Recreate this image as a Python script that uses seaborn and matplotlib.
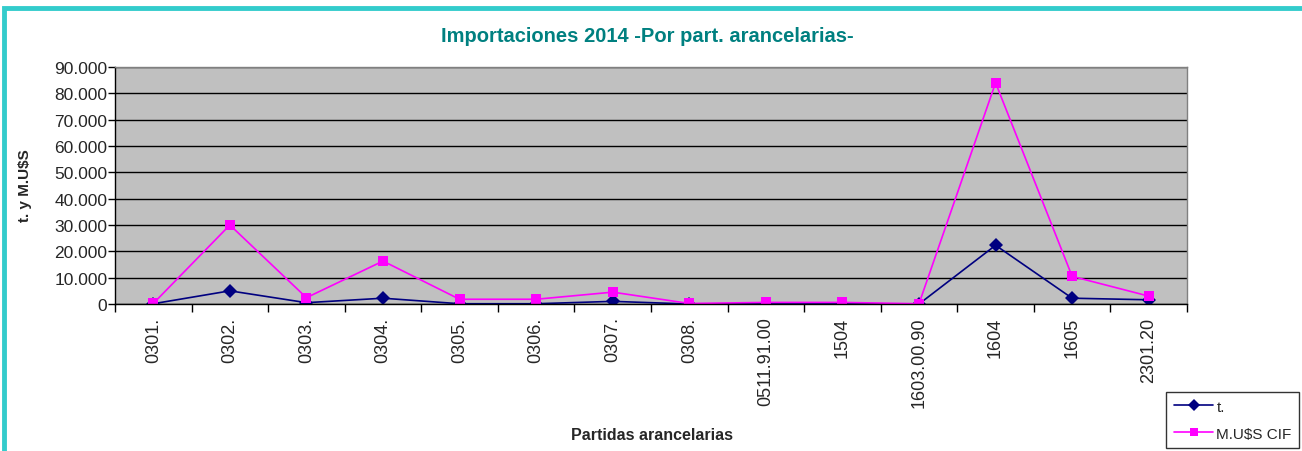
import numpy as np
import pandas as pd
import matplotlib
matplotlib.use("Agg")
import matplotlib.pyplot as plt
import seaborn as sns
from matplotlib.patches import Rectangle
from matplotlib.lines import Line2D
from matplotlib.ticker import FuncFormatter, FixedLocator

sns.set_theme(style="white")
plt.rcParams['font.family'] = ['Liberation Sans', 'DejaVu Sans']

# Datos
partidas = ["0301.", "0302.", "0303.", "0304.", "0305.", "0306.", "0307.",
            "0308.", "0511.91.00", "1504", "1603.00.90", "1604", "1605", "2301.20"]
toneladas = [100, 5000, 500, 2200, 100, 100, 1000, 0, 100, 100, 0, 22300, 2200, 1600]
musd_cif = [200, 30000, 2400, 16300, 1800, 1800, 4500, 200, 600, 600, 100, 84000, 10500, 3000]

df = pd.DataFrame({"Partida": partidas + partidas,
                   "Valor": toneladas + musd_cif,
                   "Serie": ["t."] * len(partidas) + ["M.U$S CIF"] * len(partidas)})

fig = plt.figure(figsize=(13.02, 4.52), dpi=100)
fig.patch.set_facecolor("white")
ax = fig.add_axes([115/1302, 1 - 305/452, (1187 - 115)/1302, (305 - 68)/452])

sns.lineplot(data=df, x="Partida", y="Valor", hue="Serie", style="Serie",
             palette={"t.": "#000080", "M.U$S CIF": "#FF00FF"},
             markers={"t.": "D", "M.U$S CIF": "s"}, dashes=False,
             markersize=7, linewidth=1.2, markeredgewidth=0, sort=False,
             ax=ax, legend=False)

ax.set_facecolor("#C0C0C0")
ax.set_xlim(-0.5, len(partidas) - 0.5)
ax.set_ylim(0, 90000)
ax.set_yticks(np.arange(0, 90001, 10000))
ax.yaxis.set_major_formatter(FuncFormatter(lambda v, p: f"{int(v):,}".replace(",", ".")))
ax.grid(axis="y", color="black", linewidth=1)
ax.set_axisbelow(True)

# ticks entre categorias, etiquetas centradas
ax.xaxis.set_major_locator(FixedLocator(np.arange(-0.5, len(partidas), 1)))
ax.set_xticklabels([])
ax.xaxis.set_minor_locator(FixedLocator(np.arange(len(partidas))))
ax.set_xticklabels(partidas, minor=True, rotation=90, fontsize=13)
ax.tick_params(axis="x", which="major", length=6, width=1, color="black", direction="out", bottom=True)
ax.tick_params(axis="x", which="minor", length=0, pad=9)
ax.tick_params(axis="y", length=5, width=1, color="black", direction="out", left=True,
               labelsize=12.5, pad=0.5)

for s in ["top", "right"]:
    ax.spines[s].set_color("#808080")
    ax.spines[s].set_linewidth(1)
for s in ["left", "bottom"]:
    ax.spines[s].set_color("black")
    ax.spines[s].set_linewidth(1)

ax.set_xlabel("")
ax.set_ylabel("")
fig.text(652/1302, 1 - 436/452, "Partidas arancelarias", ha="center", va="center",
         fontsize=11.5, fontweight="bold")
fig.text(25/1302, 1 - 186/452, "t. y M.U$S", ha="center", va="center",
         rotation=90, fontsize=11, fontweight="bold")
fig.text(647/1302, 1 - 36/452, "Importaciones 2014 -Por part. arancelarias-",
         ha="center", va="center", fontsize=14.5, fontweight="bold", color="#008080")

# leyenda
handles = [Line2D([], [], color="#000080", marker="D", markersize=6, markeredgewidth=0, linewidth=1.2),
           Line2D([], [], color="#FF00FF", marker="s", markersize=6, markeredgewidth=0, linewidth=1.2)]
leg = fig.legend(handles, ["t.", "M.U$S CIF"], loc="upper left",
                 bbox_to_anchor=(1166/1302, 1 - 393/452), frameon=True, fancybox=False,
                 edgecolor="black", fontsize=11, handlelength=2.6, borderpad=0.5,
                 labelspacing=0.85, handletextpad=0.2, borderaxespad=0)
leg.get_frame().set_linewidth(1)

# marco turquesa
fig.patches.append(Rectangle((4/1302, -0.2), 1.2, 1 - 9/452 + 0.2, transform=fig.transFigure,
                             fill=False, edgecolor="#33CCCC", linewidth=3.5, zorder=0))

fig.savefig("out.png", dpi=100, facecolor="white")
